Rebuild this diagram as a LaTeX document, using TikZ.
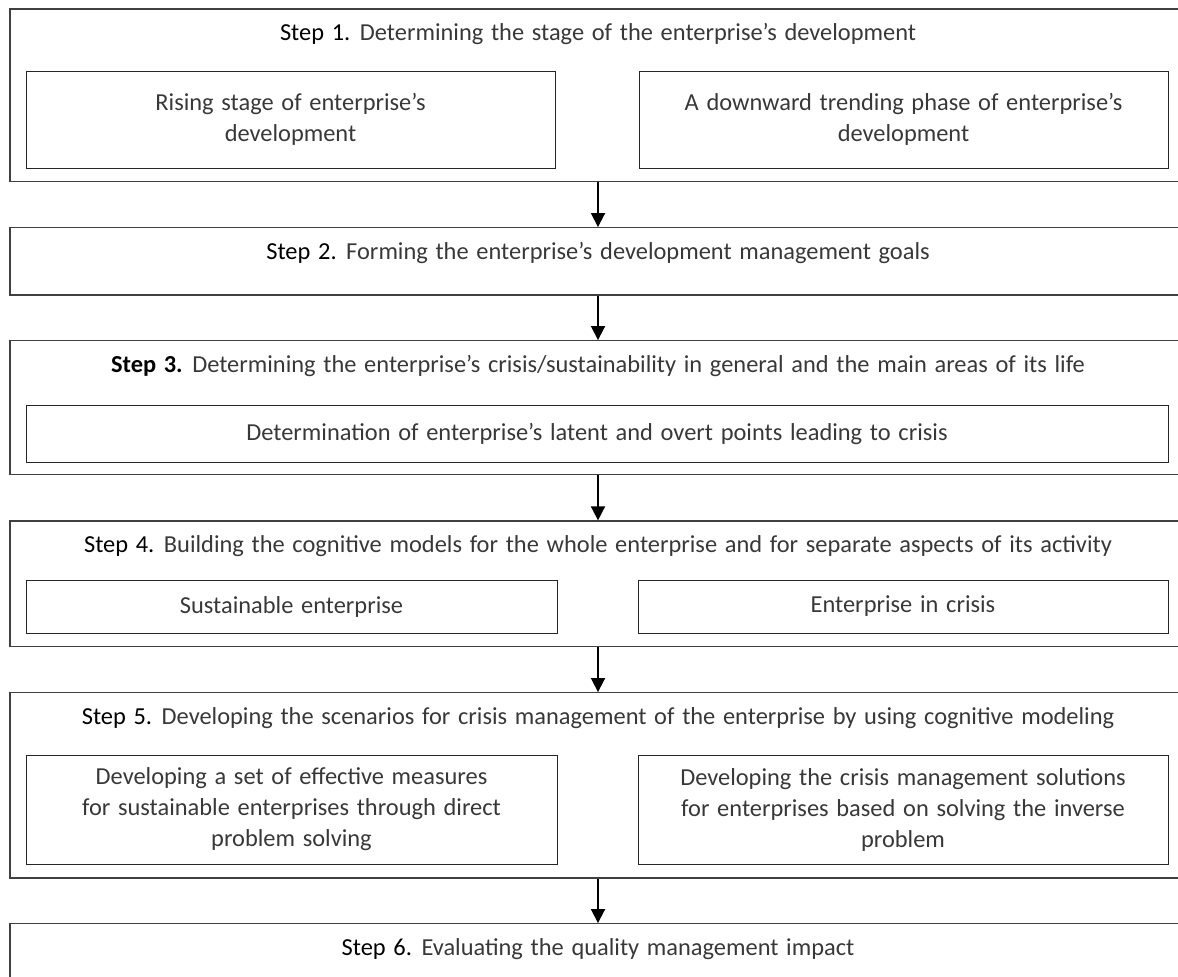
\documentclass[tikz,border=0pt]{standalone}
\usepackage{fontspec}
\setmainfont{Carlito}[WordSpace=1.4]
\usetikzlibrary{fit,arrows.meta}
\newcommand{\stepno}[1]{\textcolor{black}{#1}}

\begin{document}
\begin{tikzpicture}[x=0.5pt,y=-0.5pt,
		stepbox/.style={draw=black!75,line width=0.65pt,inner sep=0pt},
		subbox/.style={draw=black!85,line width=0.5pt,inner sep=0pt},
		subtext/.style={align=center,inner sep=0pt,text=black!78,font=\fontsize{12.2}{15.5}\selectfont},
		steptitle/.style={anchor=base,inner sep=0pt,text=black!78,font=\fontsize{12.2}{15.5}\selectfont},
		arr/.style={-{Triangle[length=7pt,width=7pt]},line width=0.9pt}]
	\useasboundingbox (0,0) rectangle (1178,976);
	\clip (0,0) rectangle (1178,976);
	% outer step boxes
	\node[stepbox,fit={(10,9) (1186,181.7)}] (s1) {};
	\node[stepbox,fit={(10,227.7) (1186,295)}] (s2) {};
	\node[stepbox,fit={(10,340.7) (1186,474.3)}] (s3) {};
	\node[stepbox,fit={(10,521) (1186,646.7)}] (s4) {};
	\node[stepbox,fit={(10,692.7) (1186,878)}] (s5) {};
	\node[stepbox,fit={(10,923.7) (1186,1000)}] (s6) {};
	% titles
	\node[steptitle] (t1) at ([yshift=-16pt]s1.north) {\stepno{Step 1.} Determining the stage of the enterprise’s development};
	\node[steptitle] (t2) at ([yshift=-16pt]s2.north) {\stepno{Step 2.} Forming the enterprise’s development management goals};
	\node[steptitle] (t3) at ([yshift=-16pt]s3.north) {\stepno{\textbf{Step 3.}} Determining the enterprise’s crisis/sustainability in general and the main areas of its life};
	\node[steptitle] (t4) at ([yshift=-16pt]s4.north) {\stepno{Step 4.} Building the cognitive models for the whole enterprise and for separate aspects of its activity};
	\node[steptitle] (t5) at ([yshift=-16pt]s5.north) {\stepno{Step 5.} Developing the scenarios for crisis management of the enterprise by using cognitive modeling};
	\node[steptitle] (t6) at ([yshift=-16pt]s6.north) {\stepno{Step 6.} Evaluating the quality management impact};
	% inner boxes
	\node[subbox,fit={(26,71) (555,168)}] (s1a) {};
	\node[subbox,fit={(639,71) (1168,168)}] (s1b) {};
	\node[subbox,fit={(26,405) (1168,462)}] (s3a) {};
	\node[subbox,fit={(26,580) (557,633)}] (s4a) {};
	\node[subbox,fit={(638,580) (1168,633)}] (s4b) {};
	\node[subbox,fit={(26,755) (557,864)}] (s5a) {};
	\node[subbox,fit={(638,755) (1168,864)}] (s5b) {};
	\node[subtext] (s1atxt) at (s1a) {Rising stage of enterprise’s\\development};
	\node[subtext] (s1btxt) at (s1b) {A downward trending phase of enterprise’s\\development};
	\node[subtext] (s3atxt) at (s3a) {Determination of enterprise’s latent and overt points leading to crisis};
	\node[subtext] (s4atxt) at (s4a) {Sustainable enterprise};
	\node[subtext] (s4btxt) at (s4b) {Enterprise in crisis};
	\node[subtext] (s5atxt) at (s5a) {Developing a set of effective measures\\for sustainable enterprises through direct\\problem solving};
	\node[subtext] (s5btxt) at (s5b) {Developing the crisis management solutions\\for enterprises based on solving the inverse\\problem};
	% arrows
	\foreach \a/\b in {s1/s2,s2/s3,s3/s4,s4/s5,s5/s6}
		\draw[arr] (\a.south) -- (\b.north);
\end{tikzpicture}
\end{document}
